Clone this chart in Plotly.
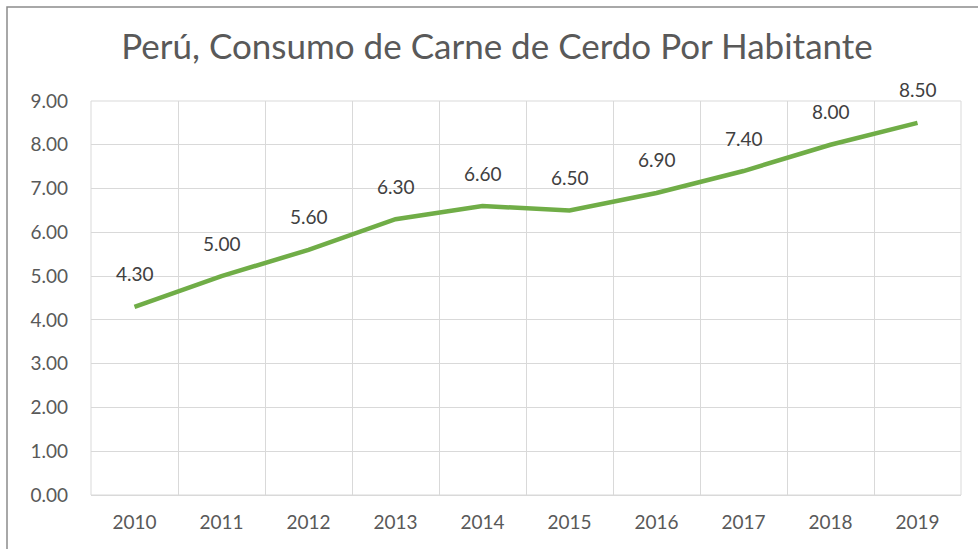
import plotly.graph_objects as go

years = ["2010", "2011", "2012", "2013", "2014", "2015", "2016", "2017", "2018", "2019"]
consumo = [4.30, 5.00, 5.60, 6.30, 6.60, 6.50, 6.90, 7.40, 8.00, 8.50]
y_ticks = [0, 1, 2, 3, 4, 5, 6, 7, 8, 9]
title_text = "Perú, Consumo de Carne de Cerdo Por Habitante"

FONT = "Lato"
TXT = "#595959"
GRID = "#d9d9d9"

fig = go.Figure()
fig.add_trace(go.Scatter(
    x=years, y=consumo, mode="lines",
    line=dict(color="#70AD47", width=4.5),
    hoverinfo="x+y", showlegend=False,
))

for i, v in enumerate(consumo):
    fig.add_annotation(x=i, y=v, text=f"{v:.2f}", showarrow=False,
                       yshift=33, font=dict(family=FONT, size=19, color="#404040"))

L, R, T, B = 91, 17, 101, 54
W, H = 978, 549
pw, ph = W - L - R, H - T - B

def px2paper_x(px):
    return (px - L) / pw

def px2paper_y(py):
    return (H - B - py) / ph

# outer chart border
fig.add_shape(type="rect", xref="paper", yref="paper",
              x0=px2paper_x(7), x1=px2paper_x(990),
              y0=px2paper_y(560), y1=px2paper_y(7),
              line=dict(color="#8c8c8c", width=1.5), layer="below")
# plot-area edge gridlines
fig.add_shape(type="rect", xref="paper", yref="paper",
              x0=0, x1=1, y0=0, y1=1,
              line=dict(color=GRID, width=1), layer="below")

fig.update_layout(
    width=W, height=H,
    margin=dict(l=L, r=R, t=T, b=B, autoexpand=False),
    paper_bgcolor="white", plot_bgcolor="white",
    title=dict(text=title_text, x=497 / W, xanchor="center", xref="container",
               y=1 - 47 / H, yanchor="middle", yref="container",
               font=dict(family=FONT, size=35, color=TXT)),
    xaxis=dict(type="category", tickson="boundaries", showgrid=True,
               gridcolor=GRID, gridwidth=1, ticks="", showline=False,
               range=[-0.5, 9.5], zeroline=False, automargin=False,
               tickfont=dict(family=FONT, size=19, color=TXT), ticklabelstandoff=14),
    yaxis=dict(range=[0, 9], tickvals=y_ticks, tickformat=".2f",
               showgrid=True, gridcolor=GRID, gridwidth=1,
               zeroline=True, zerolinecolor=GRID, zerolinewidth=1,
               showline=False, ticks="", automargin=False,
               tickfont=dict(family=FONT, size=19, color=TXT), ticklabelstandoff=22),
    font=dict(family=FONT),
)

fig.write_html("out.html", config={"displayModeBar": False},
               post_script="document.body.style.margin='0';")
